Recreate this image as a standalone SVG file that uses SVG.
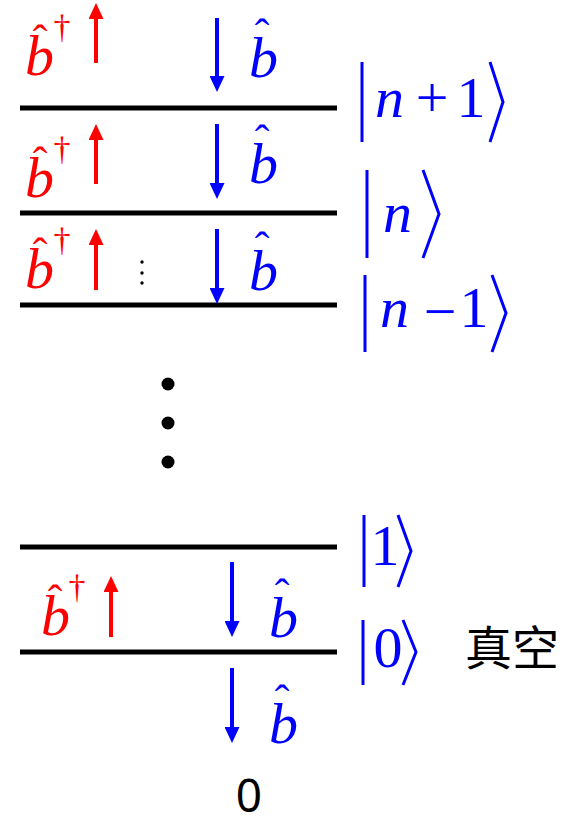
<svg xmlns="http://www.w3.org/2000/svg" width="573" height="818" viewBox="0 0 573 818">
<style>
.lvl{stroke:#000;stroke-width:5;fill:none}
.ra{stroke:#f00;stroke-width:4;fill:none;marker-end:url(#hr)}
.ba{stroke:#00f;stroke-width:4;fill:none;marker-end:url(#hb)}
.rb{font-style:italic;font-size:58px;fill:#f00}
.bb{font-style:italic;font-size:58px;fill:#00f}
.rh{font-size:44px;fill:#f00;text-anchor:middle}
.bh{font-size:44px;fill:#00f;text-anchor:middle}
.dg{font-size:34px;fill:#f00;text-anchor:middle}
.ki{font-style:italic;font-size:58px;fill:#00f}
.ku{font-size:58px;fill:#00f;text-anchor:middle}
.kd{stroke:#00f;stroke-width:3;fill:none}
</style>
<defs>
<marker id="hr" viewBox="0 0 16 15" markerWidth="16" markerHeight="15" refX="2" refY="7.5" orient="auto" markerUnits="userSpaceOnUse"><path d="M0,0 L16,7.5 L0,15 z" fill="#f00"/></marker>
<marker id="hb" viewBox="0 0 16 15" markerWidth="16" markerHeight="15" refX="2" refY="7.5" orient="auto" markerUnits="userSpaceOnUse"><path d="M0,0 L16,7.5 L0,15 z" fill="#00f"/></marker>
</defs>
<g id="levels">
<line id="level-n1" class="lvl" x1="20" y1="108" x2="337" y2="108"/>
<line id="level-n" class="lvl" x1="20" y1="213" x2="337" y2="213"/>
<line id="level-nm1" class="lvl" x1="20" y1="305" x2="337" y2="305"/>
<line id="level-1" class="lvl" x1="20" y1="547" x2="337" y2="547"/>
<line id="level-0" class="lvl" x1="20" y1="652" x2="337" y2="652"/>
</g>
<g id="connectors">
<line class="ra" x1="96" y1="63" x2="96" y2="17"/>
<line class="ra" x1="96" y1="184" x2="96" y2="138"/>
<line class="ra" x1="96" y1="290" x2="96" y2="243"/>
<line class="ra" x1="111" y1="637" x2="111" y2="590"/>
<line class="ba" x1="217" y1="18" x2="217" y2="78"/>
<line class="ba" x1="217" y1="124" x2="217" y2="185"/>
<line class="ba" x1="217" y1="229" x2="217" y2="290"/>
<line class="ba" x1="232" y1="562" x2="232" y2="623"/>
<line class="ba" x1="232" y1="668" x2="232" y2="729"/>
</g>
<g id="create-labels" font-family="'Liberation Serif',serif">
<g><text class="rb" x="25" y="75">b</text><text class="rh" x="40" y="55">ˆ</text><text class="dg" x="62" y="38">†</text></g>
<g><text class="rb" x="25" y="197">b</text><text class="rh" x="40" y="177">ˆ</text><text class="dg" x="62" y="160">†</text></g>
<g><text class="rb" x="25" y="288">b</text><text class="rh" x="40" y="268">ˆ</text><text class="dg" x="62" y="251">†</text></g>
<g><text class="rb" x="41" y="635">b</text><text class="rh" x="55" y="615">ˆ</text><text class="dg" x="77" y="598">†</text></g>
</g>
<g id="annihilate-labels" font-family="'Liberation Serif',serif">
<g><text class="bb" x="249" y="77">b</text><text class="bh" x="262" y="49">ˆ</text></g>
<g><text class="bb" x="249" y="183">b</text><text class="bh" x="262" y="155">ˆ</text></g>
<g><text class="bb" x="249" y="290">b</text><text class="bh" x="262" y="262">ˆ</text></g>
<g><text class="bb" x="269" y="637">b</text><text class="bh" x="282" y="609">ˆ</text></g>
<g><text class="bb" x="269" y="743">b</text><text class="bh" x="282" y="715">ˆ</text></g>
</g>
<g id="ket-n1" font-family="'Liberation Serif',serif">
<line class="kd" x1="362" y1="62" x2="362" y2="142"/>
<text class="ki" x="375" y="117">n</text>
<text class="ku" x="432" y="117">+</text>
<text class="ku" x="471" y="117">1</text>
<polyline class="kd" points="490,62 503,102 490,142"/>
</g>
<g id="ket-n" font-family="'Liberation Serif',serif">
<line class="kd" x1="367" y1="170" x2="367" y2="258"/>
<text class="ki" x="383" y="232">n</text>
<polyline class="kd" points="423,170 439,214 423,258"/>
</g>
<g id="ket-nm1" font-family="'Liberation Serif',serif">
<line class="kd" x1="365" y1="275" x2="365" y2="352"/>
<text class="ki" x="380" y="327">n</text>
<text class="ku" x="440" y="331" font-size="62">−</text>
<text class="ku" x="474" y="327">1</text>
<polyline class="kd" points="492,275 506,313 492,352"/>
</g>
<g id="ket-1" font-family="'Liberation Serif',serif">
<line class="kd" x1="364" y1="515" x2="364" y2="587"/>
<text class="ku" x="385" y="565">1</text>
<polyline class="kd" points="398,515 411,551 398,587"/>
</g>
<g id="ket-0" font-family="'Liberation Serif',serif">
<line class="kd" x1="363" y1="620" x2="363" y2="685"/>
<text class="ku" x="388" y="667">0</text>
<polyline class="kd" points="403,620 416,652 403,685"/>
</g>
<g id="dots">
<circle cx="142" cy="262" r="1.7"/>
<circle cx="142" cy="273" r="1.7"/>
<circle cx="142" cy="283" r="1.7"/>
<circle cx="168" cy="384" r="6.5"/>
<circle cx="168" cy="423" r="6.5"/>
<circle cx="168" cy="462" r="6.5"/>
</g>
<g id="vacuum-label"><text x="465" y="665" font-family="'Noto Sans CJK SC','Noto Sans CJK JP',sans-serif" font-size="47" fill="#000">真空</text></g>
<g id="zero"><text x="249" y="812" font-family="'Noto Sans',sans-serif" font-size="46" fill="#000" text-anchor="middle">0</text></g>
</svg>
